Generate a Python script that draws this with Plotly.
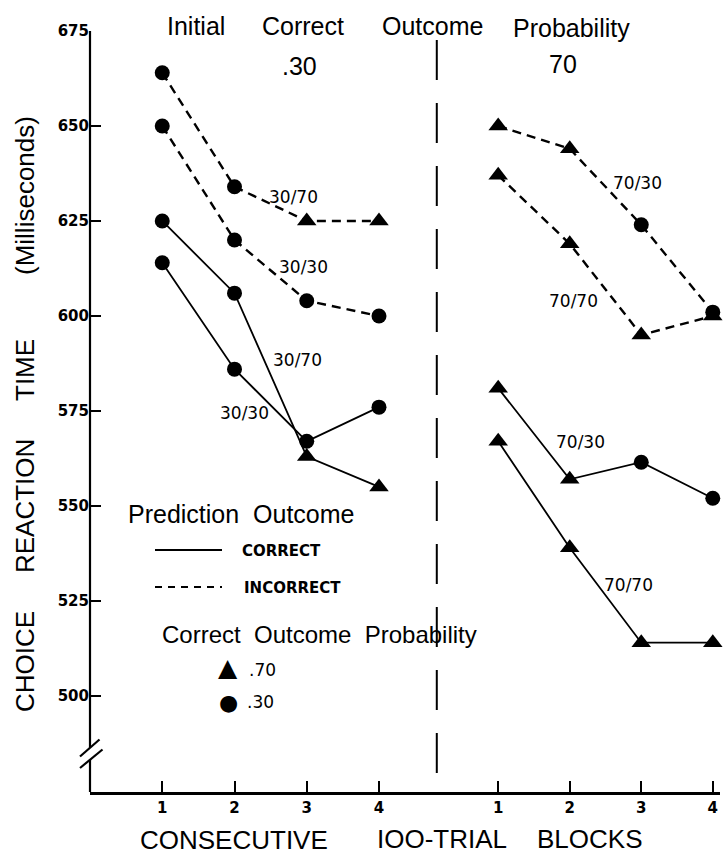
import plotly.graph_objects as go

# ---------------- data ----------------
block_labels = ["1", "2", "3", "4"]
x_left = [1, 2, 3, 4]                 # blocks, initial .30 condition
x_right = [5.65, 6.64, 7.63, 8.62]    # blocks, initial .70 condition

# incorrect predictions (dashed)
rt_30_70_incorrect = [664, 634, 625, 625]
sym_30_70_incorrect = ["circle", "circle", "triangle-up", "triangle-up"]
rt_30_30_incorrect = [650, 620, 604, 600]
sym_30_30_incorrect = ["circle", "circle", "circle", "circle"]
rt_70_30_incorrect = [650, 644, 624, 601]
sym_70_30_incorrect = ["triangle-up", "triangle-up", "circle", "circle"]
rt_70_70_incorrect = [637, 619, 595, 600]
sym_70_70_incorrect = ["triangle-up", "triangle-up", "triangle-up", "triangle-up"]

# correct predictions (solid)
rt_30_70_correct = [625, 606, 563, 555]
sym_30_70_correct = ["circle", "circle", "triangle-up", "triangle-up"]
rt_30_30_correct = [614, 586, 567, 576]
sym_30_30_correct = ["circle", "circle", "circle", "circle"]
rt_70_30_correct = [581, 557, 561.5, 552]
sym_70_30_correct = ["triangle-up", "triangle-up", "circle", "circle"]
rt_70_70_correct = [567, 539, 514, 514]
sym_70_70_correct = ["triangle-up", "triangle-up", "triangle-up", "triangle-up"]

y_ticks = [500, 525, 550, 575, 600, 625, 650, 675]

# ---------------- layout geometry ----------------
W, H = 724, 855
L, R, T, B = 90, 720, 31, 792
X_RANGE = [0, 8.72]
Y_RANGE = [474.7, 675]
DIVIDER_X = 4.80
MARKER_SIZE = {"circle": 15, "triangle-up": 17}


def px(x):
    return (x - L) / (R - L)


def py(y):
    return (B - y) / (B - T)


BIG = "Liberation Sans, Arial, sans-serif"
SMALL = "DejaVu Sans, sans-serif"

fig = go.Figure()


def add_series(x, y, symbols, dashed):
    fig.add_trace(go.Scatter(
        x=x, y=y, mode="lines+markers",
        line=dict(color="black", width=2.4 if dashed else 1.8,
                  dash="9px,6px" if dashed else "solid"),
        marker=dict(symbol=symbols, size=[MARKER_SIZE[s] for s in symbols],
                    color="black", opacity=1, line=dict(width=0)),
        hoverinfo="skip", cliponaxis=False,
    ))


add_series(x_left, rt_30_70_incorrect, sym_30_70_incorrect, True)
add_series(x_left, rt_30_30_incorrect, sym_30_30_incorrect, True)
add_series(x_left, rt_30_70_correct, sym_30_70_correct, False)
add_series(x_left, rt_30_30_correct, sym_30_30_correct, False)
add_series(x_right, rt_70_30_incorrect, sym_70_30_incorrect, True)
add_series(x_right, rt_70_70_incorrect, sym_70_70_incorrect, True)
add_series(x_right, rt_70_30_correct, sym_70_30_correct, False)
add_series(x_right, rt_70_70_correct, sym_70_70_correct, False)

annotations = []


def text(t, x, y, size, family=BIG, angle=0, weight="normal"):
    annotations.append(dict(
        text=t, x=px(x), y=py(y), xref="paper", yref="paper",
        xanchor="center", yanchor="middle", showarrow=False, textangle=angle,
        font=dict(family=family, size=size, color="black", weight=weight)))


# top heading
text("Initial", 196, 26, 25)
text("Correct", 303, 26, 25)
text("Outcome", 432, 26, 25)
text("Probability", 571, 28, 25)
text(".30", 299, 66, 25)
text("70", 563, 64, 25)

# y-axis title words
text("(Milliseconds)", 25, 196, 26, angle=-90)
text("TIME", 25, 370, 26, angle=-90)
text("REACTION", 25, 506, 26, angle=-90)
text("CHOICE", 25, 662, 26, angle=-90)

# x-axis title words
text("CONSECUTIVE", 234, 840, 26)
text("IOO-TRIAL", 442, 839, 26)
text("BLOCKS", 590, 839, 26)

# series labels
text("30/70", 293, 197, 17, SMALL)
text("30/30", 303, 267, 17, SMALL)
text("30/70", 297, 360, 17, SMALL)
text("30/30", 244, 413, 17, SMALL)
text("70/30", 637, 183, 17, SMALL)
text("70/70", 573, 301, 17, SMALL)
text("70/30", 580, 442, 17, SMALL)
text("70/70", 628, 585, 17, SMALL)

# legend
text("Prediction  Outcome", 241, 514, 25)
text("CORRECT", 281, 551, 15, SMALL, weight="bold")
text("INCORRECT", 292, 588, 15, SMALL, weight="bold")
text("Correct  Outcome  Probability", 319, 634, 24)
text("▲", 228, 667, 25, SMALL)
text("●", 228, 702, 22, SMALL)
text(".70", 262, 670, 17, SMALL)
text(".30", 260, 702, 17, SMALL)

shapes = [
    # vertical divider between conditions
    dict(type="line", xref="x", yref="paper", x0=DIVIDER_X, x1=DIVIDER_X,
         y0=py(40), y1=0, line=dict(color="black", width=2, dash="40px,23px")),
    # y axis with break
    dict(type="line", xref="paper", yref="paper", x0=0, x1=0, y0=1, y1=py(748),
         line=dict(color="black", width=2.2)),
    dict(type="line", xref="paper", yref="paper", x0=0, x1=0, y0=py(760), y1=0,
         line=dict(color="black", width=2.2)),
    dict(type="line", xref="paper", yref="paper", x0=px(80), x1=px(99.5),
         y0=py(756.5), y1=py(739.5), line=dict(color="black", width=2.2)),
    dict(type="line", xref="paper", yref="paper", x0=px(80), x1=px(102.5),
         y0=py(768), y1=py(749.5), line=dict(color="black", width=2.2)),
    # legend line samples
    dict(type="line", xref="paper", yref="paper", x0=px(155), x1=px(222),
         y0=py(550), y1=py(550), line=dict(color="black", width=2)),
    dict(type="line", xref="paper", yref="paper", x0=px(155), x1=px(222),
         y0=py(587), y1=py(587), line=dict(color="black", width=2, dash="7px,6px")),
]

fig.update_layout(
    width=W, height=H,
    margin=dict(l=L, r=W - R, t=T, b=H - B, pad=0),
    paper_bgcolor="white", plot_bgcolor="white",
    showlegend=False,
    annotations=annotations,
    shapes=shapes,
    xaxis=dict(
        range=X_RANGE, tickvals=x_left + x_right, ticktext=block_labels * 2,
        ticks="inside", ticklen=11, tickwidth=2, tickcolor="black",
        showline=True, linecolor="black", linewidth=2.5,
        showgrid=False, zeroline=False,
        tickfont=dict(family=SMALL, size=15, color="black", weight="bold"),
    ),
    yaxis=dict(
        range=Y_RANGE, tickvals=y_ticks,
        ticks="inside", ticklen=11, tickwidth=2, tickcolor="black",
        showline=False, showgrid=False, zeroline=False,
        tickfont=dict(family=SMALL, size=15, color="black", weight="bold"),
    ),
)

fig.write_html(
    "out.html",
    config={"displayModeBar": False},
    post_script="document.body.style.margin='0';document.body.style.padding='0';",
)
